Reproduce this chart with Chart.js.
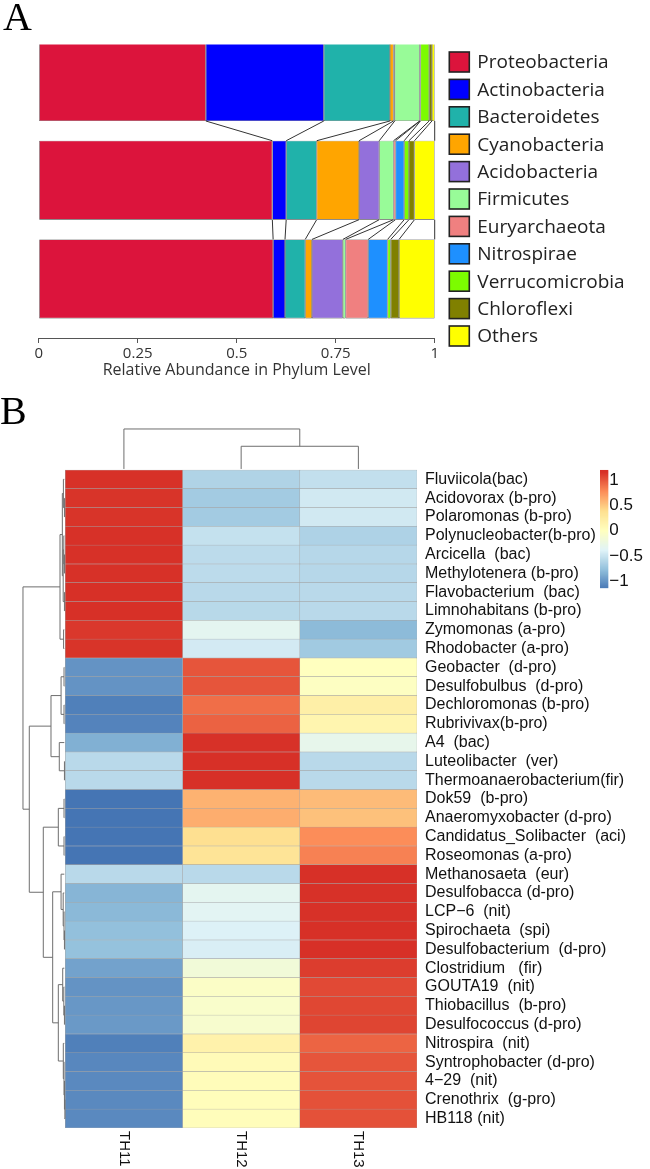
<!DOCTYPE html>
<html><head><meta charset="utf-8">
<script src="https://cdn.jsdelivr.net/npm/chart.js@4.4.1/dist/chart.umd.min.js"></script>
<style>
html,body{margin:0;padding:0;background:#fff;width:650px;height:1169px;overflow:hidden;}
#wrapA{position:absolute;left:0;top:0;width:650px;height:390px;}
#wrapB{position:absolute;left:0;top:390px;width:650px;height:779px;}
.panel{position:absolute;font-family:"Liberation Serif","Times New Roman",serif;font-size:40px;color:#000;line-height:1;}
</style></head><body>
<div id="wrapA"><canvas id="cA" width="650" height="390"></canvas></div>
<div id="wrapB"><canvas id="cB" width="650" height="779"></canvas></div>
<div class="panel" style="left:3px;top:-3px">A</div>
<div class="panel" style="left:0px;top:391px">B</div>
<script>
// ---------- Panel A data ----------
const phyla = ['Proteobacteria','Actinobacteria','Bacteroidetes','Cyanobacteria','Acidobacteria','Firmicutes','Euryarchaeota','Nitrospirae','Verrucomicrobia','Chloroflexi','Others'];
const phylumColors = ['#DC143C','#0000FF','#20B2AA','#FFA500','#9370DB','#98FB98','#F08080','#1E90FF','#7CFC00','#808000','#FFFF00'];
const barSamples = ['Sample 1','Sample 2','Sample 3'];
const sample1Abund = [0.422,0.298,0.167,0.009,0.003,0.063,0.001,0.001,0.022,0.007,0.007];
const sample2Abund = [0.590,0.035,0.077,0.107,0.051,0.036,0.005,0.022,0.012,0.014,0.051];
const sample3Abund = [0.592,0.030,0.051,0.017,0.078,0.007,0.057,0.049,0.008,0.021,0.090];
const xTicksA = [0,0.25,0.5,0.75,1];
const xTitleA = 'Relative Abundance in Phylum Level';

// ---------- Panel B data ----------
const genera = ['Fluviicola(bac)','Acidovorax (b-pro)','Polaromonas (b-pro)','Polynucleobacter(b-pro)','Arcicella  (bac)','Methylotenera (b-pro)','Flavobacterium  (bac)','Limnohabitans (b-pro)','Zymomonas (a-pro)','Rhodobacter (a-pro)','Geobacter  (d-pro)','Desulfobulbus  (d-pro)','Dechloromonas (b-pro)','Rubrivivax(b-pro)','A4  (bac)','Luteolibacter  (ver)','Thermoanaerobacterium(fir)','Dok59  (b-pro)','Anaeromyxobacter (d-pro)','Candidatus_Solibacter  (aci)','Roseomonas (a-pro)','Methanosaeta  (eur)','Desulfobacca (d-pro)','LCP\u22126  (nit)','Spirochaeta  (spi)','Desulfobacterium  (d-pro)','Clostridium   (fir)','GOUTA19  (nit)','Thiobacillus  (b-pro)','Desulfococcus (d-pro)','Nitrospira  (nit)','Syntrophobacter (d-pro)','4\u221229  (nit)','Crenothrix  (g-pro)','HB118 (nit)'];
const heatSamples = ['TH11','TH12','TH13'];
const zTH11 = [1.15,1.14,1.14,1.15,1.15,1.15,1.155,1.155,1.12,1.14,-1.0,-1.0,-1.1,-1.08,-0.85,-0.577,-0.577,-1.155,-1.155,-1.155,-1.155,-0.577,-0.82,-0.8,-0.76,-0.75,-0.92,-1.0,-0.98,-0.97,-1.1,-1.06,-1.05,-1.05,-1.05];
const zTH12 = [-0.62,-0.68,-0.68,-0.52,-0.56,-0.56,-0.577,-0.58,-0.33,-0.45,1.0,1.0,0.9,0.95,1.15,1.155,1.155,0.6,0.62,0.38,0.33,-0.577,-0.33,-0.35,-0.4,-0.42,-0.17,-0.05,-0.08,-0.1,0.16,0.06,0.04,0.03,0.03];
const zTH13 = [-0.53,-0.46,-0.46,-0.63,-0.59,-0.59,-0.577,-0.575,-0.79,-0.69,0.0,-0.02,0.2,0.13,-0.3,-0.577,-0.577,0.555,0.53,0.77,0.82,1.155,1.15,1.15,1.155,1.155,1.1,1.05,1.06,1.07,0.94,1.0,1.01,1.02,1.02];
// hclust-style merges: negative = leaf (row index+1), positive = earlier merge (1-based); third = height (root = 1)
const rowMerges = [[-2,-3,0.02],[-1,1,0.045],[-5,-6,0.02],[-4,3,0.035],[-7,-8,0.02],[4,5,0.05],[2,6,0.07],[-9,-10,0.04],[7,8,0.125],
 [-11,-12,0.03],[-13,-14,0.03],[10,11,0.10],[-16,-17,0.02],[-15,13,0.142],[12,14,0.338],
 [-18,-19,0.03],[-20,-21,0.03],[16,17,0.165],
 [-25,-26,0.02],[-24,19,0.03],[-23,20,0.05],[-22,21,0.10],[-29,-30,0.02],[-28,23,0.035],[-27,24,0.061],
 [-34,-35,0.01],[-33,26,0.02],[-32,27,0.03],[-31,28,0.047],[25,29,0.165],[22,30,0.298],[18,31,0.52],[15,32,0.851],[9,33,1.0]];
const colMerges = [[-2,-3,0.578],[-1,1,1.0]];
const colorbarTicks = [1,0.5,0,-0.5,-1];
const heatPalette = ['#4575B4','#91BFDB','#E0F3F8','#FFFFBF','#FEE090','#FC8D59','#D73027'];
const zMin = -1.155, zMax = 1.155;

function hex2rgb(h){return [parseInt(h.substr(1,2),16),parseInt(h.substr(3,2),16),parseInt(h.substr(5,2),16)];}
function heatColor(v){
  let t=(v-zMin)/(zMax-zMin); t=Math.max(0,Math.min(1,t));
  const s=t*(heatPalette.length-1); const i=Math.min(heatPalette.length-2,Math.floor(s)); const f=s-i;
  const a=hex2rgb(heatPalette[i]), b=hex2rgb(heatPalette[i+1]);
  return 'rgb('+a.map((x,k)=>Math.round(x+(b[k]-x)*f)).join(',')+')';
}

// ---------- Panel A chart ----------
const abund = [sample1Abund,sample2Abund,sample3Abund];
const linkPlugin = {id:'links', afterDatasetsDraw(chart){
  const ctx=chart.ctx, n=chart.data.datasets.length;
  ctx.save(); ctx.strokeStyle='#333'; ctx.lineWidth=1;
  for(let i=0;i<barSamples.length-1;i++){
    for(let k=0;k<n;k++){
      const a=chart.getDatasetMeta(k).data[i], b=chart.getDatasetMeta(k).data[i+1];
      ctx.beginPath(); ctx.moveTo(a.x,a.y+a.height/2); ctx.lineTo(b.x,b.y-b.height/2); ctx.stroke();
    }
  }
  ctx.restore();
}};
const legendPlugin = {id:'sideLegend', afterDraw(chart){
  const ctx=chart.ctx, ca=chart.chartArea;
  const x0=ca.right+14.6, y0=52, step=27.4, box=20;
  ctx.save();
  ctx.font='19px "Open Sans", sans-serif'; ctx.textAlign='left'; ctx.textBaseline='middle';
  chart.data.datasets.forEach((ds,k)=>{
    const y=y0+k*step;
    ctx.fillStyle=ds.backgroundColor; ctx.fillRect(x0,y,box,box);
    ctx.strokeStyle='#222'; ctx.lineWidth=1.6; ctx.strokeRect(x0,y,box,box);
    ctx.fillStyle='#222'; ctx.fillText(ds.label,x0+box+8,y+box/2+1);
  });
  ctx.restore();
}};
new Chart(document.getElementById('cA'),{
  type:'bar',
  data:{datasets:phyla.map((p,k)=>({
    label:p,
    data:barSamples.map((s,i)=>({x:abund[i][k],y:i})),
    backgroundColor:phylumColors[k],borderColor:'#333',borderWidth:0.6,borderSkipped:false,
    categoryPercentage:0.8,barPercentage:1
  }))},
  options:{
    indexAxis:'y',responsive:false,animation:false,devicePixelRatio:1,
    layout:{padding:{top:44.6,left:38.7,right:215.3,bottom:0}},
    plugins:{legend:{display:false},tooltip:{enabled:false}},
    scales:{
      x:{type:'linear',stacked:true,min:0,max:1,position:'bottom',
        afterBuildTicks:s=>{s.ticks=xTicksA.map(v=>({value:v}));},
        grid:{drawOnChartArea:false,drawTicks:true,tickLength:5,color:'#555',lineWidth:1},
        border:{display:true,color:'#555',width:1},
        ticks:{padding:2,color:'#333',font:{family:'Open Sans',size:15},callback:v=>String(v)},
        title:{display:true,text:xTitleA,color:'#333',font:{family:'Open Sans',size:16},padding:{top:0,bottom:9.7}},
        afterFit:s=>{s.height=52;}
      },
      y:{type:'linear',stacked:true,reverse:true,offset:false,min:-0.3739,max:2.5987,display:false,
        grid:{offset:false},
        afterBuildTicks:s=>{s.ticks=barSamples.map((b,i)=>({value:i}));}}
    }
  },
  plugins:[linkPlugin,legendPlugin]
});

// ---------- Panel B chart ----------
const zCols=[zTH11,zTH12,zTH13];
function treeNodes(merges, leafPos){
  const nodes=[];
  const get=id=> id<0 ? {p:leafPos(-id-1),h:0} : nodes[id-1];
  merges.forEach(([a,b,h])=>{const A=get(a),B=get(b);nodes.push({p:(A.p+B.p)/2,h:h,A:A,B:B});});
  return nodes;
}
const rowTreeSpan = 0.361, colTreeSpan = 2.18;
const dendroPlugin={id:'dendro', afterDatasetsDraw(chart){
  const ctx=chart.ctx, xs=chart.scales.x, ys=chart.scales.y;
  ctx.save(); ctx.strokeStyle='#6e6e6e'; ctx.lineWidth=1;
  const rn=treeNodes(rowMerges, i=>ys.getPixelForValue(i+0.5));
  const hx=h=>xs.getPixelForValue(-h*rowTreeSpan)-(h===0?1:0);
  rn.forEach(n=>{ctx.beginPath();ctx.moveTo(hx(n.A.h),n.A.p);ctx.lineTo(hx(n.h),n.A.p);ctx.lineTo(hx(n.h),n.B.p);ctx.lineTo(hx(n.B.h),n.B.p);ctx.stroke();});
  const cn=treeNodes(colMerges, c=>xs.getPixelForValue(c+0.5));
  const hy=h=>ys.getPixelForValue(-h*colTreeSpan)-(h===0?1:0);
  cn.forEach(n=>{ctx.beginPath();ctx.moveTo(n.A.p,hy(n.A.h));ctx.lineTo(n.A.p,hy(n.h));ctx.lineTo(n.B.p,hy(n.h));ctx.lineTo(n.B.p,hy(n.B.h));ctx.stroke();});
  ctx.restore();
}};
const colorbarPlugin={id:'cbar', afterDraw(chart){
  const ctx=chart.ctx, ca=chart.chartArea, ys=chart.scales.y;
  const left=ca.right+183, w=8.3, top=ys.getPixelForValue(0), h=118;
  const vTop=1.195, vBot=-1.125;
  const yOf=v=>top+(vTop-v)/(vTop-vBot)*h;
  ctx.save();
  for(let k=0;k<h;k++){ctx.fillStyle=heatColor(vTop-(k+0.5)/h*(vTop-vBot));ctx.fillRect(left,top+k,w,1.2);}
  ctx.font='17px "Liberation Sans", Arial, sans-serif'; ctx.fillStyle='#111'; ctx.textAlign='left'; ctx.textBaseline='middle';
  colorbarTicks.forEach(v=>{ctx.fillText(v<0?'\u2212'+Math.abs(v):String(v), left+w+1, yOf(v));});
  ctx.restore();
}};
const colLabelPlugin={id:'collab', afterDraw(chart){
  const ctx=chart.ctx, xs=chart.scales.x, top=chart.chartArea.bottom+3;
  ctx.save(); ctx.font='15px "Liberation Sans", Arial, sans-serif'; ctx.fillStyle='#111'; ctx.textAlign='left'; ctx.textBaseline='middle';
  heatSamples.forEach((s,c)=>{ctx.save();ctx.translate(xs.getPixelForValue(c+0.5),top);ctx.rotate(Math.PI/2);ctx.fillText(s,0,0);ctx.restore();});
  ctx.restore();
}};
new Chart(document.getElementById('cB'),{
  type:'bar',
  data:{datasets:heatSamples.map((s,c)=>({
    label:s,
    data:genera.map((g,r)=>({x:1,y:r+0.5,z:zCols[c][r]})),
    backgroundColor:ctx=>heatColor(ctx.raw.z),
    borderColor:'#a5a5a5',borderWidth:0.5,borderSkipped:false,
    barPercentage:1,categoryPercentage:1
  }))},
  options:{
    indexAxis:'y',responsive:false,animation:false,devicePixelRatio:1,
    layout:{padding:{top:38.6,bottom:41,left:0,right:0}},
    plugins:{legend:{display:false},tooltip:{enabled:false}},
    scales:{
      x:{type:'linear',stacked:true,min:-0.557,max:3,display:false},
      y:{type:'linear',stacked:true,reverse:true,offset:false,min:-2.2,max:35,position:'right',
        grid:{display:false,drawTicks:false,offset:false},border:{display:false},
        afterBuildTicks:s=>{s.ticks=genera.map((g,i)=>({value:i+0.5}));},
        ticks:{autoSkip:false,padding:8,color:'#111',font:{family:'Liberation Sans',size:16},callback:(v,i)=>genera[i]},
        afterFit:s=>{s.width=233;}
      }
    }
  },
  plugins:[dendroPlugin,colorbarPlugin,colLabelPlugin]
});
</script>
</body></html>
